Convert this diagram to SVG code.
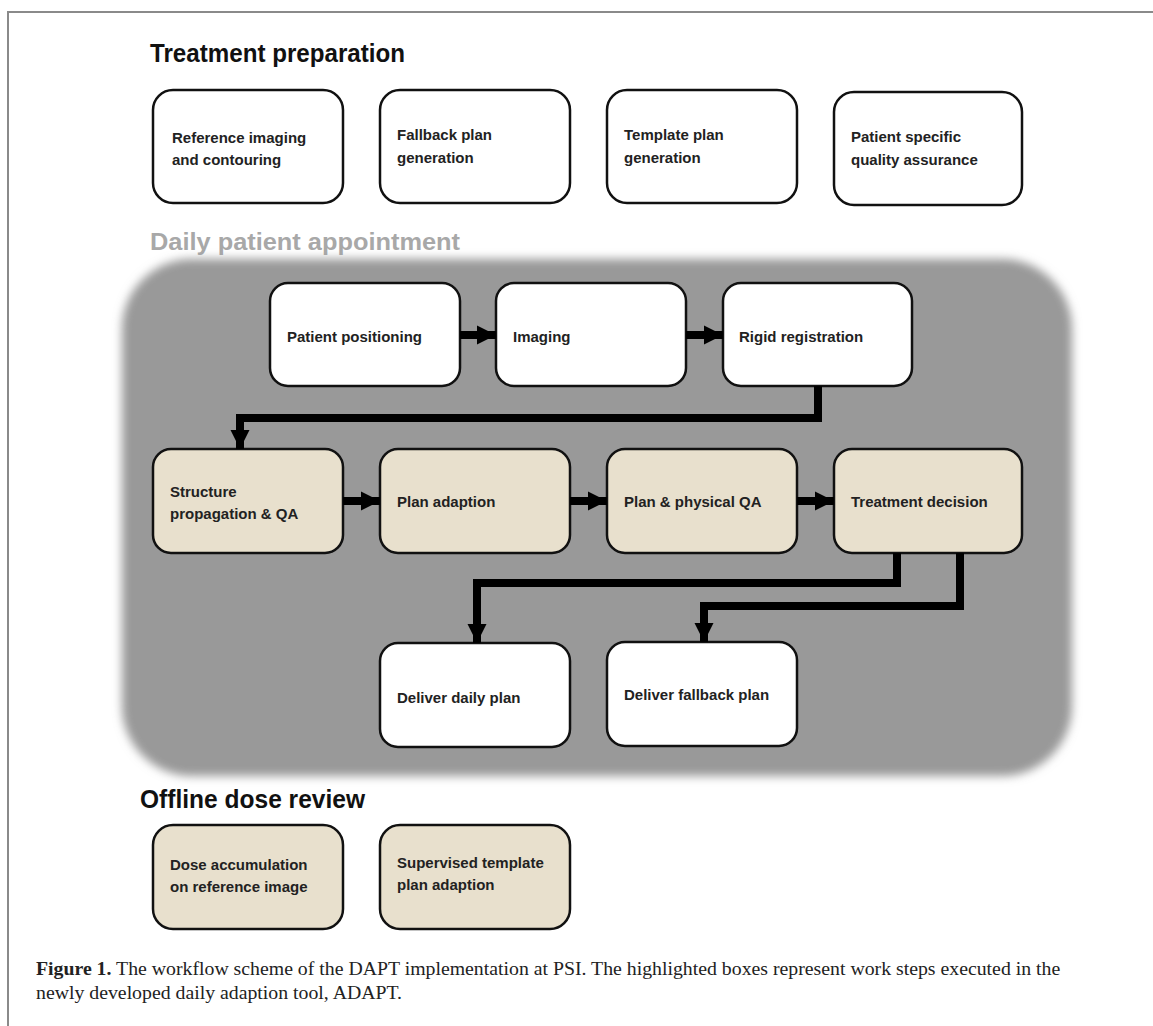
<svg xmlns="http://www.w3.org/2000/svg" width="1153" height="1026" viewBox="0 0 1153 1026">
<style>
.title{font-family:"Liberation Sans",Arial,sans-serif;font-weight:bold;font-size:25px;fill:#111}
.sub{font-family:"Liberation Sans",Arial,sans-serif;font-weight:bold;font-size:23.5px;fill:#a8a8a8}
.lbl{font-family:"Liberation Sans",Arial,sans-serif;font-weight:bold;font-size:15px;fill:#222}
.w{fill:#fff;stroke:#111;stroke-width:2.5}
.b{fill:#e8e0cd;stroke:#111;stroke-width:2.5}
.con{fill:none;stroke:#000;stroke-width:8;stroke-linejoin:miter}
.cap{font-family:"Liberation Serif","Times New Roman",serif;font-size:19.8px;fill:#222}
</style>
<defs>
<marker id="ah" viewBox="0 0 10 10" refX="10" refY="5" markerUnits="userSpaceOnUse" markerWidth="19" markerHeight="22" orient="auto">
<path d="M0,0 L10,5 L0,10 Z" fill="#000"/>
</marker>
<filter id="soft" x="-10%" y="-10%" width="120%" height="120%">
<feGaussianBlur stdDeviation="5"/>
</filter>
</defs>
<rect width="1153" height="1026" fill="#fff"/>
<path d="M8,1026 L8,12 L1153,12" fill="none" stroke="#8a8a8a" stroke-width="2"/>

<text class="title" x="150" y="62" textLength="255" lengthAdjust="spacingAndGlyphs">Treatment preparation</text>

<g id="n-ref"><rect class="w" x="153" y="90" width="190" height="113" rx="20"/><text class="lbl" x="172" y="143">Reference imaging</text><text class="lbl" x="172" y="165">and contouring</text></g>
<g id="n-fallback"><rect class="w" x="380" y="90" width="190" height="113" rx="20"/><text class="lbl" x="397" y="140">Fallback plan</text><text class="lbl" x="397" y="163">generation</text></g>
<g id="n-template"><rect class="w" x="607" y="90" width="190" height="113" rx="20"/><text class="lbl" x="624" y="140">Template plan</text><text class="lbl" x="624" y="163">generation</text></g>
<g id="n-psqa"><rect class="w" x="834" y="92" width="188" height="113" rx="20"/><text class="lbl" x="851" y="142">Patient specific</text><text class="lbl" x="851" y="165">quality assurance</text></g>

<text class="sub" x="150" y="250" textLength="310" lengthAdjust="spacingAndGlyphs">Daily patient appointment</text>
<rect x="122" y="259" width="950" height="517" rx="70" fill="#999" filter="url(#soft)"/>

<g id="n-pos"><rect class="w" x="270" y="283" width="190" height="103" rx="18"/><text class="lbl" x="287" y="342">Patient positioning</text></g>
<g id="n-img"><rect class="w" x="496" y="283" width="190" height="103" rx="18"/><text class="lbl" x="513" y="342">Imaging</text></g>
<g id="n-rigid"><rect class="w" x="723" y="283" width="189" height="103" rx="18"/><text class="lbl" x="739" y="342">Rigid registration</text></g>

<g id="n-struct"><rect class="b" x="153" y="449" width="190" height="104" rx="18"/><text class="lbl" x="170" y="497">Structure</text><text class="lbl" x="170" y="519">propagation &amp; QA</text></g>
<g id="n-adapt"><rect class="b" x="380" y="449" width="190" height="104" rx="18"/><text class="lbl" x="397" y="507">Plan adaption</text></g>
<g id="n-pqa"><rect class="b" x="607" y="449" width="190" height="104" rx="18"/><text class="lbl" x="624" y="507">Plan &amp; physical QA</text></g>
<g id="n-decision"><rect class="b" x="834" y="449" width="188" height="104" rx="18"/><text class="lbl" x="851" y="507">Treatment decision</text></g>

<g id="n-daily"><rect class="w" x="380" y="643" width="190" height="104" rx="18"/><text class="lbl" x="397" y="703">Deliver daily plan</text></g>
<g id="n-fb"><rect class="w" x="607" y="642" width="190" height="104" rx="18"/><text class="lbl" x="624" y="700">Deliver fallback plan</text></g>

<g id="connectors">
<path class="con" d="M460,335 L496,335" marker-end="url(#ah)"/>
<path class="con" d="M686,335 L723,335" marker-end="url(#ah)"/>
<path class="con" d="M818,386 L818,418 L240,418 L240,449" marker-end="url(#ah)"/>
<path class="con" d="M343,501 L380,501" marker-end="url(#ah)"/>
<path class="con" d="M570,501 L607,501" marker-end="url(#ah)"/>
<path class="con" d="M797,501 L834,501" marker-end="url(#ah)"/>
<path class="con" d="M897,553 L897,583 L477,583 L477,643" marker-end="url(#ah)"/>
<path class="con" d="M960,553 L960,606 L704,606 L704,642" marker-end="url(#ah)"/>
</g>

<text class="title" x="140" y="808" textLength="225" lengthAdjust="spacingAndGlyphs">Offline dose review</text>
<g id="n-dose"><rect class="b" x="153" y="825" width="190" height="104" rx="20"/><text class="lbl" x="170" y="870">Dose accumulation</text><text class="lbl" x="170" y="892">on reference image</text></g>
<g id="n-sup"><rect class="b" x="380" y="825" width="190" height="104" rx="20"/><text class="lbl" x="397" y="868">Supervised template</text><text class="lbl" x="397" y="890">plan adaption</text></g>

<text class="cap" x="36" y="975"><tspan font-weight="bold">Figure 1.</tspan> The workflow scheme of the DAPT implementation at PSI. The highlighted boxes represent work steps executed in the</text>
<text class="cap" x="36" y="999">newly developed daily adaption tool, ADAPT.</text>
</svg>
